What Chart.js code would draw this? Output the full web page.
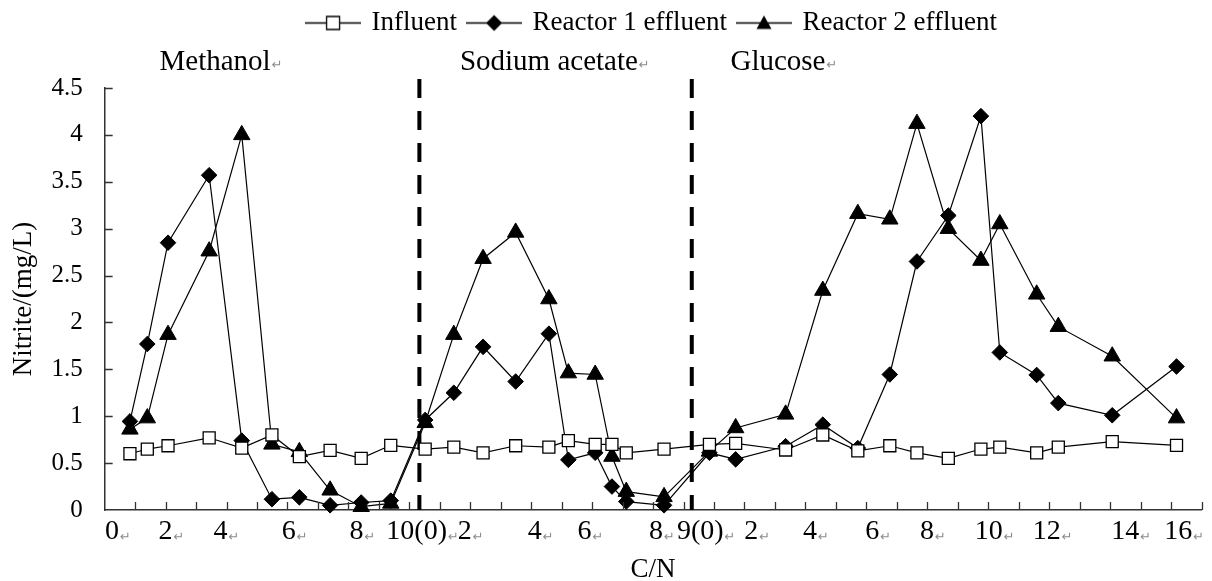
<!DOCTYPE html>
<html>
<head>
<meta charset="utf-8">
<script src="https://cdn.jsdelivr.net/npm/chart.js@4.4.1/dist/chart.umd.min.js"></script>
<style>
  html, body { margin: 0; padding: 0; background: #fff; }
  #wrap { width: 1212px; height: 581px; }
</style>
</head>
<body>
<div id="wrap"><canvas id="nitriteChart"></canvas></div>
<script>
// position of each sample on the C/N axis (methanol | sodium acetate | glucose runs, 36 tick steps)
const cnPoints = [0.83, 1.40, 2.08, 3.43, 4.50, 5.49, 6.39, 7.40, 8.42, 9.39,
  10.52, 11.46, 12.42, 13.49, 14.58, 15.22, 16.10, 16.65, 17.12, 18.36,
  19.85, 20.71, 22.35, 23.57, 24.72, 25.77, 26.66, 27.69, 28.76, 29.38, 30.59, 31.30, 33.07, 35.18];

const influent = [0.60, 0.65, 0.685, 0.77, 0.66, 0.80, 0.57, 0.635, 0.55, 0.69,
  0.65, 0.67, 0.61, 0.685, 0.67, 0.74, 0.70, 0.70, 0.61, 0.65,
  0.70, 0.71, 0.64, 0.80, 0.63, 0.685, 0.61, 0.55, 0.65, 0.67, 0.61, 0.67, 0.73, 0.69];

const reactor1 = [0.945, 1.77, 2.85, 3.57, 0.74, 0.115, 0.135, 0.05, 0.08, 0.10,
  0.96, 1.25, 1.74, 1.37, 1.88, 0.535, 0.61, 0.25, 0.09, 0.05,
  0.61, 0.54, 0.68, 0.91, 0.66, 1.445, 2.65, 3.14, 4.20, 1.68, 1.44, 1.14, 1.01, 1.53];

const reactor2 = [0.86, 0.98, 1.87, 2.76, 4.00, 0.70, 0.62, 0.21, 0.035, 0.07,
  0.93, 1.87, 2.68, 2.96, 2.25, 1.46, 1.445, 0.57, 0.196, 0.14,
  0.625, 0.875, 1.02, 2.34, 3.16, 3.10, 4.12, 3.00, 2.66, 3.05, 2.30, 1.955, 1.64, 0.98];

const seriesNames = ["Influent", "Reactor 1 effluent", "Reactor 2 effluent"];

const xTickLabels = ["0", "2", "4", "6", "8", "10(0)", "2", "4", "6", "8", "9(0)",
  "2", "4", "6", "8", "10", "12", "14", "16"];
const xTickAt = [0.24, 2.0, 3.8, 6.04, 8.27, 10.24, 11.82, 14.12, 15.75, 18.1, 19.55,
  21.22, 23.15, 25.19, 26.99, 29.02, 30.92, 33.5, 35.24];

const sectionNames = ["Methanol", "Sodium acetate", "Glucose"];
const sectionAt = [1.8, 11.66, 20.54];
const dividers = [10.33, 19.27];

const serif = '"Liberation Serif", "Times New Roman", serif';

function toPoints(ys) {
  return ys.map((y, i) => ({ x: cnPoints[i], y: y }));
}

function legendIcon(kind) {
  const c = document.createElement("canvas");
  c.width = 56;
  c.height = 20;
  const g = c.getContext("2d");
  g.strokeStyle = "#000";
  g.fillStyle = "#000";
  g.lineWidth = 1.3;
  g.beginPath();
  g.moveTo(0, 10.5);
  g.lineTo(56, 10.5);
  g.stroke();
  g.beginPath();
  if (kind === "square") {
    g.fillStyle = "#fff";
    g.rect(21.5, 4, 13, 13);
    g.fill();
    g.stroke();
  } else if (kind === "diamond") {
    g.moveTo(28, 2.5);
    g.lineTo(36, 10.5);
    g.lineTo(28, 18.5);
    g.lineTo(20, 10.5);
    g.closePath();
    g.fill();
  } else {
    g.moveTo(28, 3);
    g.lineTo(35.5, 16.5);
    g.lineTo(20.5, 16.5);
    g.closePath();
    g.fill();
  }
  return c;
}
const icons = [legendIcon("square"), legendIcon("diamond"), legendIcon("triangle")];

function returnMark(ctx, x, y) {
  ctx.save();
  ctx.font = '13px "DejaVu Sans"';
  ctx.fillStyle = "#8c8c8c";
  ctx.textAlign = "left";
  ctx.textBaseline = "alphabetic";
  ctx.fillText("\u21B5", x, y);
  ctx.restore();
}

// legend sits right of centre and leaves room for the section names
const legendPlace = {
  id: "legendPlace",
  beforeLayout(chart) {
    const lg = chart.legend;
    if (!lg || lg._padded) return;
    const fit = lg.fit;
    lg.fit = function () {
      fit.call(this);
      this.height += 39;
    };
    lg._padded = true;
  },
  afterLayout(chart) {
    const lg = chart.legend;
    lg.left += 47;
    lg.right += 47;
    lg.top -= 3;
    lg.bottom -= 3;
  },
};

const decor = {
  id: "decor",
  beforeDatasetsDraw(chart) {
    const { ctx, chartArea, scales } = chart;
    ctx.save();
    ctx.strokeStyle = "#000";
    ctx.lineWidth = 4;
    ctx.setLineDash([19, 13]);
    dividers.forEach((v) => {
      const px = scales.x.getPixelForValue(v);
      ctx.beginPath();
      ctx.moveTo(px, chartArea.top - 9);
      ctx.lineTo(px, chartArea.bottom);
      ctx.stroke();
    });
    ctx.restore();
  },
  afterDraw(chart) {
    const { ctx, chartArea, scales } = chart;
    const x = scales.x;
    const y = scales.y;
    ctx.save();
    ctx.strokeStyle = "#333";
    ctx.lineWidth = 1.3;
    ctx.beginPath();
    for (let i = 1; i <= 36; i++) {
      const px = Math.round(x.getPixelForValue(i)) + 0.5;
      ctx.moveTo(px, chartArea.bottom);
      ctx.lineTo(px, chartArea.bottom - 8);
    }
    for (let v = 0.5; v <= 4.5; v += 0.5) {
      const py = Math.round(y.getPixelForValue(v)) + 0.5;
      ctx.moveTo(chartArea.left, py);
      ctx.lineTo(chartArea.left + 8, py);
    }
    ctx.stroke();

    ctx.fillStyle = "#000";
    ctx.textAlign = "left";
    ctx.textBaseline = "alphabetic";
    ctx.font = "29px " + serif;
    sectionNames.forEach((name, i) => {
      const px = x.getPixelForValue(sectionAt[i]);
      ctx.fillText(name, px, chartArea.top - 18);
      returnMark(ctx, px + ctx.measureText(name).width + 1, chartArea.top - 19);
    });

    ctx.font = "28px " + serif;
    x.ticks.forEach((t, i) => {
      const w = ctx.measureText(xTickLabels[i]).width;
      returnMark(ctx, x.getPixelForValue(t.value) + w / 2 + 1, chartArea.bottom + 31);
    });
    ctx.restore();
  },
};

const ctx = document.getElementById("nitriteChart");

new Chart(ctx, {
  type: "line",
  data: {
    datasets: [
      {
        label: seriesNames[0],
        data: toPoints(influent),
        borderColor: "#000",
        borderWidth: 1.2,
        pointStyle: "rect",
        pointRadius: 8.5,
        pointBackgroundColor: "#fff",
        pointBorderColor: "#000",
        pointBorderWidth: 1.3,
        clip: false,
      },
      {
        label: seriesNames[1],
        data: toPoints(reactor1),
        borderColor: "#000",
        borderWidth: 1.2,
        pointStyle: "rectRot",
        pointRadius: 7.8,
        pointBackgroundColor: "#000",
        pointBorderColor: "#000",
        pointBorderWidth: 1,
        clip: false,
      },
      {
        label: seriesNames[2],
        data: toPoints(reactor2),
        borderColor: "#000",
        borderWidth: 1.2,
        pointStyle: "triangle",
        pointRadius: 9.5,
        pointBackgroundColor: "#000",
        pointBorderColor: "#000",
        pointBorderWidth: 1,
        clip: false,
      },
    ],
  },
  options: {
    responsive: true,
    maintainAspectRatio: false,
    animation: false,
    layout: { padding: { left: 8, right: 9, top: 0, bottom: 0 } },
    plugins: {
      tooltip: { enabled: false },
      legend: {
        position: "top",
        labels: {
          usePointStyle: true,
          pointStyleWidth: 50,
          padding: 12,
          color: "#000",
          font: { family: serif, size: 27 },
          generateLabels: (chart) =>
            chart.data.datasets.map((ds, i) => ({
              text: ds.label,
              pointStyle: icons[i],
              fontColor: "#000",
              fillStyle: "transparent",
              strokeStyle: "transparent",
              lineWidth: 0,
              hidden: false,
              datasetIndex: i,
            })),
        },
      },
    },
    scales: {
      x: {
        type: "linear",
        min: 0,
        max: 36,
        afterBuildTicks: (scale) => {
          scale.ticks = xTickAt.map((v) => ({ value: v }));
        },
        grid: { display: false, drawTicks: false },
        border: { display: true, color: "#333", width: 1.5 },
        ticks: {
          autoSkip: false,
          maxRotation: 0,
          minRotation: 0,
          padding: 5,
          color: "#000",
          font: { family: serif, size: 28 },
          callback: (v, i) => xTickLabels[i],
        },
        title: {
          display: true,
          text: "C/N",
          color: "#000",
          font: { family: serif, size: 27 },
          padding: { top: 0, bottom: -5 },
        },
      },
      y: {
        min: 0,
        max: 4.5,
        grid: { display: false, drawTicks: false },
        border: { display: true, color: "#333", width: 1.5 },
        ticks: {
          stepSize: 0.5,
          padding: 22,
          color: "#000",
          font: { family: serif, size: 25 },
          callback: (v) => String(v),
        },
        title: {
          display: true,
          text: "Nitrite/(mg/L)",
          color: "#000",
          font: { family: serif, size: 27 },
          padding: { top: 0, bottom: -11 },
        },
      },
    },
  },
  plugins: [legendPlace, decor],
});
</script>
</body>
</html>
